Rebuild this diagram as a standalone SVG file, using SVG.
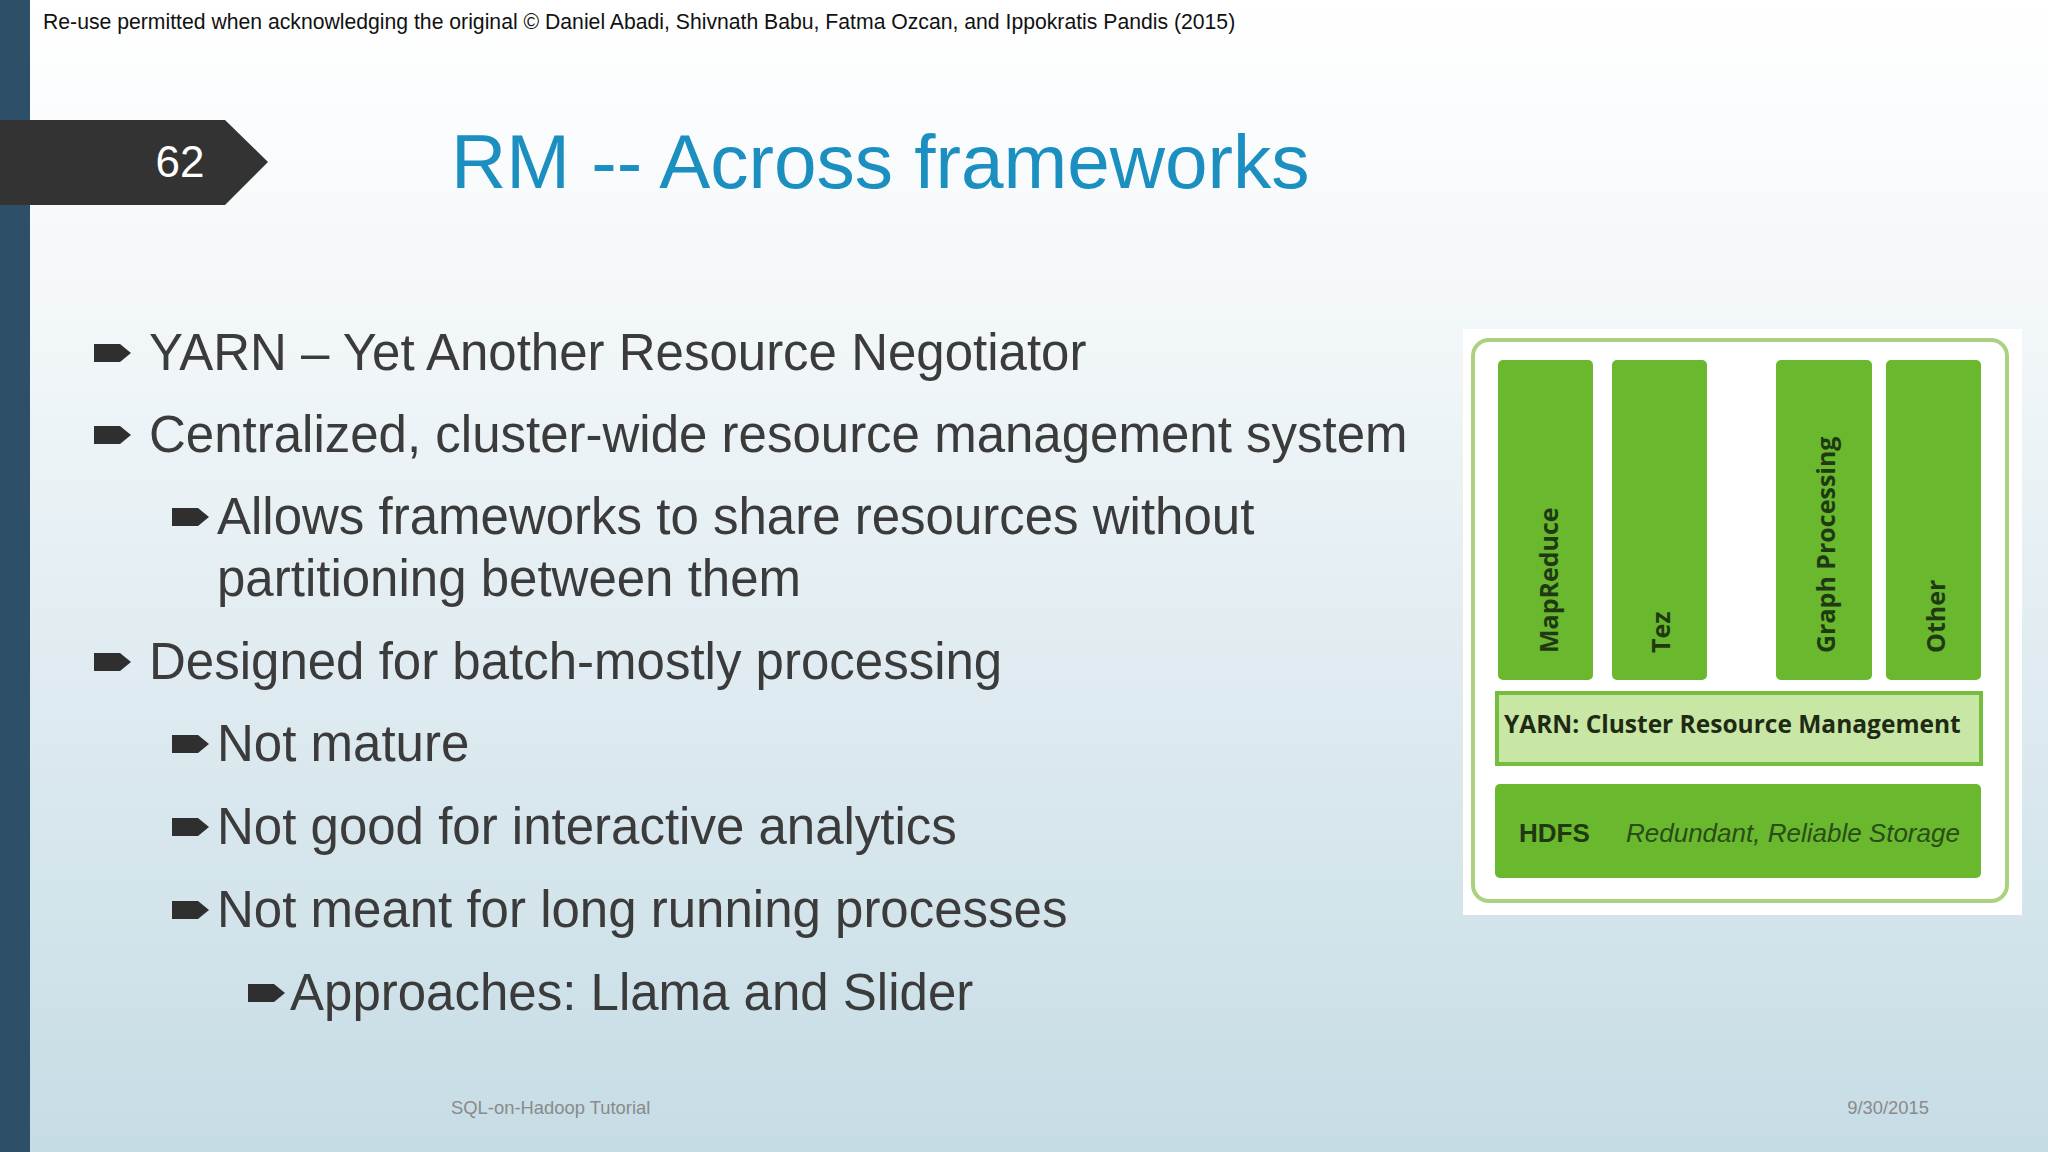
<svg xmlns="http://www.w3.org/2000/svg" width="2048" height="1152" viewBox="0 0 2048 1152">
<defs>
<linearGradient id="bg" x1="0" y1="0" x2="0" y2="1">
<stop offset="0" stop-color="#ffffff"/><stop offset="0.25" stop-color="#f4f8fa"/><stop offset="1" stop-color="#c6dce5"/>
</linearGradient>
<style>
.t{font-family:"Liberation Sans",Arial,sans-serif;fill:#3b3b3b;font-size:51px}
.b{fill:#2f2f2f}
.col{fill:#69b82e}
.v{font-family:"Open Sans","DejaVu Sans",sans-serif;font-weight:bold;font-size:25px;fill:#1f3a12}
</style>
<path id="arr" d="M0,-9 L26,-9 L37,0 L26,9 L0,9 Z"/>
</defs>
<rect width="2048" height="1152" fill="url(#bg)"/>
<rect x="0" y="0" width="30" height="1152" fill="#2d5068"/>
<text x="43" y="29" font-family="Liberation Sans,Arial,sans-serif" font-size="21.2" fill="#111">Re-use permitted when acknowledging the original © Daniel Abadi, Shivnath Babu, Fatma Ozcan, and Ippokratis Pandis (2015)</text>
<g id="tab"><polygon points="0,120 225,120 268,162 225,205 0,205" fill="#333333"/>
<text x="180" y="177" text-anchor="middle" font-family="Liberation Sans,Arial,sans-serif" font-size="44" fill="#fff">62</text></g>
<text x="451" y="188" font-family="Liberation Sans,Arial,sans-serif" font-size="76.5" fill="#1a8fc0">RM -- Across frameworks</text>
<g id="bullets">
<use href="#arr" x="94" y="353" class="b"/><text class="t" x="149" y="370">YARN – Yet Another Resource Negotiator</text>
<use href="#arr" x="94" y="435" class="b"/><text class="t" x="149" y="452">Centralized, cluster-wide resource management system</text>
<use href="#arr" x="172" y="517" class="b"/><text class="t" x="217" y="534">Allows frameworks to share resources without</text>
<text class="t" x="217" y="596">partitioning between them</text>
<use href="#arr" x="94" y="662" class="b"/><text class="t" x="149" y="679">Designed for batch-mostly processing</text>
<use href="#arr" x="172" y="744" class="b"/><text class="t" x="217" y="761">Not mature</text>
<use href="#arr" x="172" y="827" class="b"/><text class="t" x="217" y="844">Not good for interactive analytics</text>
<use href="#arr" x="172" y="910" class="b"/><text class="t" x="217" y="927">Not meant for long running processes</text>
<use href="#arr" x="248" y="993" class="b"/><text class="t" x="290" y="1010">Approaches: Llama and Slider</text>
</g>
<text x="451" y="1114" font-family="Liberation Sans,Arial,sans-serif" font-size="18.4" fill="#8a8a8a">SQL-on-Hadoop Tutorial</text>
<text x="1929" y="1114" text-anchor="end" font-family="Liberation Sans,Arial,sans-serif" font-size="18.4" fill="#8a8a8a">9/30/2015</text>
<g id="diagram">
<rect x="1463" y="329" width="559" height="586" fill="#ffffff"/>
<rect x="1473" y="340" width="534" height="561" rx="16" fill="none" stroke="#a9d17f" stroke-width="4"/>
<g id="mapreduce"><rect class="col" x="1498" y="360" width="95" height="320" rx="5"/><text class="v" transform="translate(1558,653) rotate(-90)">MapReduce</text></g>
<g id="tez"><rect class="col" x="1612" y="360" width="95" height="320" rx="5"/><text class="v" transform="translate(1670,653) rotate(-90)">Tez</text></g>
<g id="graph"><rect class="col" x="1776" y="360" width="96" height="320" rx="5"/><text class="v" transform="translate(1835,653) rotate(-90)">Graph Processing</text></g>
<g id="other"><rect class="col" x="1886" y="360" width="95" height="320" rx="5"/><text class="v" transform="translate(1945,653) rotate(-90)">Other</text></g>
<g id="yarn"><rect x="1497" y="693" width="484" height="71" fill="#c8e6a4" stroke="#74bd3f" stroke-width="4"/>
<text x="1504" y="733" font-family="Open Sans,DejaVu Sans,sans-serif" font-weight="bold" font-size="24.5" fill="#1f2a14">YARN: Cluster Resource Management</text></g>
<g id="hdfs"><rect class="col" x="1495" y="784" width="486" height="94" rx="5"/>
<text x="1519" y="842" font-family="Liberation Sans,Arial,sans-serif" font-weight="bold" font-size="26" fill="#1f3a12">HDFS</text>
<text x="1626" y="842" font-family="Liberation Sans,Arial,sans-serif" font-style="italic" font-size="26" fill="#2a4d18">Redundant, Reliable Storage</text></g>
</g>
</svg>
